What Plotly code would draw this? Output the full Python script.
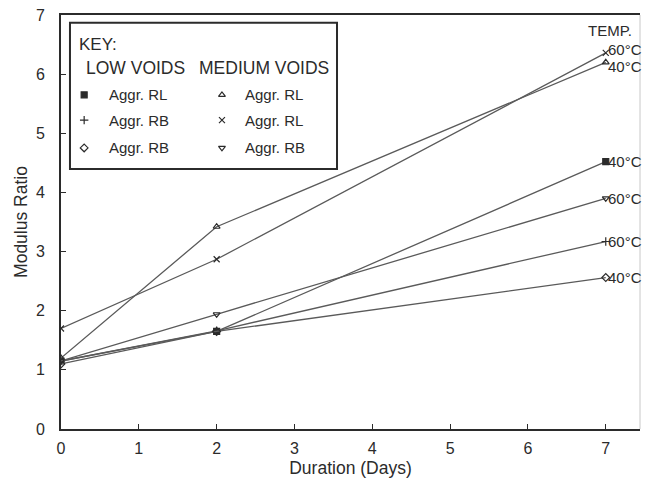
import plotly.graph_objects as go

days = [0, 2, 7]
low_rl_40 = [1.15, 1.65, 4.52]
low_rb_60 = [1.15, 1.66, 3.17]
low_rb_40 = [1.10, 1.65, 2.56]
med_rl_40 = [1.20, 3.42, 6.20]
med_rl_60 = [1.70, 2.87, 6.36]
med_rb_60 = [1.15, 1.94, 3.90]

series = [
    ("Low voids Aggr. RL", low_rl_40, "square", "40°C", 0),
    ("Low voids Aggr. RB", low_rb_60, "cross-thin", "60°C", 0),
    ("Low voids Aggr. RB (2)", low_rb_40, "diamond-open", "40°C", 0),
    ("Medium voids Aggr. RL", med_rl_40, "triangle-up-open", "40°C", -4),
    ("Medium voids Aggr. RL (2)", med_rl_60, "x-thin", "60°C", 3),
    ("Medium voids Aggr. RB", med_rb_60, "triangle-down-open", "60°C", 0),
]

x_ticks = [0, 1, 2, 3, 4, 5, 6, 7]
y_ticks = [0, 1, 2, 3, 4, 5, 6, 7]

FONT = "Liberation Sans, Arial, sans-serif"
INK = "#2b2b2b"
LINE = "#5a5a5a"

fig = go.Figure()
for name, vals, sym, temp, yshift in series:
    fig.add_trace(go.Scatter(
        x=days, y=vals, mode="lines+markers", name=name,
        line=dict(color=LINE, width=1.3),
        marker=dict(symbol=sym, size=6, color=INK,
                    line=dict(color=INK, width=1.2)),
        showlegend=False,
    ))
    fig.add_annotation(x=days[-1], y=vals[-1], text=temp, showarrow=False,
                       xanchor="left", yanchor="middle", xshift=0, yshift=yshift,
                       font=dict(family=FONT, size=15, color=INK))

fig.add_annotation(x=7.0, y=1.0, xref="x", yref="paper", text="TEMP.",
                   showarrow=False, xanchor="center", yanchor="top", xshift=4, yshift=-5,
                   font=dict(family=FONT, size=15, color=INK))

# Key (legend) drawn manually
legend_syms = [["square", "cross-thin", "diamond-open"],
               ["triangle-up-open", "x-thin", "triangle-down-open"]]
legend_txt = [["Aggr. RL", "Aggr. RB", "Aggr. RB"],
              ["Aggr. RL", "Aggr. RL", "Aggr. RB"]]
col_sym_x = [0.040, 0.278]
col_txt_x = [0.079, 0.314]
row_y = [0.807, 0.746, 0.679]
for c in range(2):
    for r in range(3):
        fig.add_trace(go.Scatter(
            x=[col_sym_x[c]], y=[row_y[r]], xaxis="x2", yaxis="y2",
            mode="markers", showlegend=False, hoverinfo="skip",
            marker=dict(symbol=legend_syms[c][r], size=6, color=INK,
                        line=dict(color=INK, width=1.2)),
        ))
        fig.add_annotation(x=col_txt_x[c], y=row_y[r], xref="paper", yref="paper",
                           text=legend_txt[c][r], showarrow=False,
                           xanchor="left", yanchor="middle",
                           font=dict(family=FONT, size=15, color=INK))

fig.add_shape(type="rect", xref="paper", yref="paper",
              x0=0.0155, x1=0.4767, y0=0.628, y1=0.981,
              line=dict(color=INK, width=2), fillcolor="white", layer="below")
fig.add_shape(type="line", xref="paper", yref="paper",
              x0=1, x1=1, y0=0, y1=1, line=dict(color="#c8c8c8", width=1))
fig.add_annotation(x=0.027, y=0.928, xref="paper", yref="paper", text="KEY:",
                   showarrow=False, xanchor="left", yanchor="middle",
                   font=dict(family=FONT, size=17, color=INK))
fig.add_annotation(x=0.039, y=0.872, xref="paper", yref="paper", text="LOW VOIDS",
                   showarrow=False, xanchor="left", yanchor="middle",
                   font=dict(family=FONT, size=17.5, color=INK))
fig.add_annotation(x=0.235, y=0.872, xref="paper", yref="paper", text="MEDIUM VOIDS",
                   showarrow=False, xanchor="left", yanchor="middle",
                   font=dict(family=FONT, size=17.5, color=INK))

fig.update_layout(
    width=645, height=482,
    margin=dict(l=61, r=5, t=15, b=53),
    paper_bgcolor="white", plot_bgcolor="white",
    font=dict(family=FONT, color=INK),
    xaxis=dict(range=[0, 7.44], tickvals=x_ticks, ticks="inside", ticklen=5,
               tickcolor=INK, showline=True, linecolor=INK, linewidth=1.5,
               mirror=True,
               showgrid=False, zeroline=False, tickfont=dict(size=16),
               ticklabelstandoff=4,
               title=dict(text="Duration (Days)", font=dict(size=17.5), standoff=6)),
    yaxis=dict(range=[0, 7], tickvals=y_ticks, ticks="inside", ticklen=5,
               tickcolor=INK, showline=True, linecolor=INK, linewidth=1.8,
               showgrid=False, zeroline=False, tickfont=dict(size=16),
               ticklabelstandoff=11,
               title=dict(text="Modulus Ratio", font=dict(size=17.5), standoff=4)),
    xaxis2=dict(range=[0, 1], overlaying="x", visible=False, fixedrange=True),
    yaxis2=dict(range=[0, 1], overlaying="y", visible=False, fixedrange=True),
)

fig.write_html("out.html")
